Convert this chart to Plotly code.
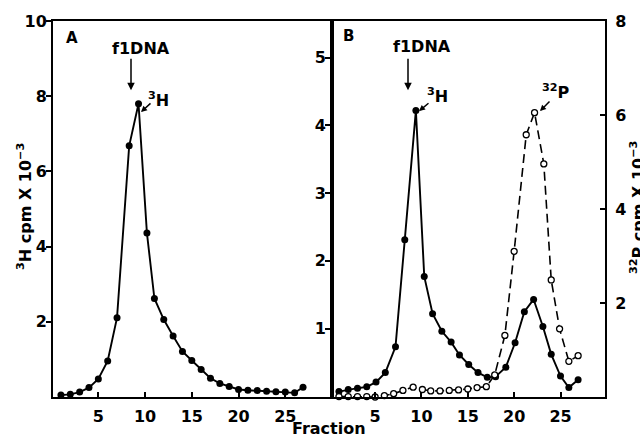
import plotly.graph_objects as go

# ---------------- data ----------------
fraction_a = [1, 2, 3, 4, 5, 6, 7, 8.3, 9.3, 10.2, 11, 12, 13, 14, 15, 16, 17, 18, 19, 20,
              21, 22, 23, 24, 25, 26, 26.9]
h3_a = [0.05, 0.07, 0.13, 0.25, 0.48, 0.96, 2.11, 6.68, 7.8, 4.36, 2.62, 2.06, 1.62, 1.21,
        0.97, 0.73, 0.5, 0.36, 0.28, 0.2, 0.18, 0.17, 0.15, 0.14, 0.13, 0.11, 0.26]

fraction_b_h3 = [1.1, 2.1, 3.1, 4.1, 5.1, 6.1, 7.2, 8.2, 9.4, 10.3, 11.2, 12.2, 13.2, 14.1,
                 15.1, 16.1, 17.1, 18, 19.1, 20.1, 21.1, 22.1, 23.1, 24, 25, 25.9, 26.9]
h3_b = [0.07, 0.10, 0.12, 0.14, 0.21, 0.35, 0.73, 2.31, 4.22, 1.77, 1.22, 0.96, 0.80, 0.61,
        0.47, 0.35, 0.28, 0.29, 0.43, 0.79, 1.25, 1.43, 1.03, 0.62, 0.30, 0.13, 0.245]

fraction_b_p32 = [1.1, 2.1, 3.1, 4.1, 5.0, 6.0, 7.0, 8.0, 9.1, 10.1, 11, 12, 13, 14, 15, 16,
                  17, 17.9, 19, 20, 21.3, 22.2, 23.2, 24, 24.9, 25.9, 26.9]
p32_b = [0.01, 0.01, 0.01, 0.01, 0.0, 0.03, 0.07, 0.14, 0.21, 0.16, 0.13, 0.13, 0.14, 0.15,
         0.17, 0.20, 0.22, 0.47, 1.31, 3.10, 5.58, 6.05, 4.96, 2.49, 1.45, 0.76, 0.88]

x_ticks = [5, 10, 15, 20, 25]
ya_ticks = [2, 4, 6, 8, 10]
yb_left_ticks = [1, 2, 3, 4, 5]
yb_right_ticks = [2, 4, 6, 8]

# ---------------- geometry helpers ----------------
W, H = 640, 438
ML, MR, MT, MB = 53, 35, 18, 40
PW, PH = W - ML - MR, H - MT - MB


def px(x):
    return (x - ML) / PW


def py(y):
    return (H - MB - y) / PH


FONT = "DejaVu Sans"
tickfont = dict(family=FONT, size=16, color="black", weight="bold")

fig = go.Figure()
fig.add_trace(go.Scatter(
    x=fraction_a, y=h3_a, mode="lines+markers", xaxis="x", yaxis="y",
    line=dict(color="black", width=1.9),
    marker=dict(size=7, color="black"), cliponaxis=False, showlegend=False))
fig.add_trace(go.Scatter(
    x=fraction_b_h3, y=h3_b, mode="lines+markers", xaxis="x2", yaxis="y2",
    line=dict(color="black", width=1.9),
    marker=dict(size=7, color="black"), cliponaxis=False, showlegend=False))
fig.add_trace(go.Scatter(
    x=fraction_b_p32, y=p32_b, mode="lines+markers", xaxis="x2", yaxis="y3",
    line=dict(color="black", width=1.6, dash="9px,5px"),
    marker=dict(size=6, color="white", line=dict(color="black", width=1.3)),
    cliponaxis=False, showlegend=False))

axis_common = dict(showline=True, linecolor="black", linewidth=2, showgrid=False,
                   zeroline=False, ticklen=5, tickwidth=2, tickcolor="black",
                   tickfont=tickfont)
split = (332 - ML) / PW

fig.update_layout(
    width=W, height=H,
    margin=dict(l=ML, r=MR, t=MT, b=MB, pad=0),
    paper_bgcolor="white", plot_bgcolor="white",
    xaxis=dict(domain=[0, split], range=[0.15, 30.0], tickvals=x_ticks, ticks="inside",
               mirror=True, anchor="y", ticklabelstandoff=4, **axis_common),
    xaxis2=dict(domain=[split, 1], range=[0.35, 29.8], tickvals=x_ticks, ticks="inside",
                mirror=True, anchor="y2", ticklabelstandoff=4, **axis_common),
    yaxis=dict(domain=[0, 1], range=[0, 10], tickvals=ya_ticks, ticks="outside",
               mirror=True, anchor="x", ticklabelstandoff=-4, **axis_common),
    yaxis2=dict(domain=[0, 1], range=[-0.01, 5.54], tickvals=yb_left_ticks, ticks="outside",
                mirror=True, anchor="x2", ticklabelstandoff=-4, **axis_common),
    yaxis3=dict(domain=[0, 1], range=[0, 8], tickvals=yb_right_ticks, ticks="inside",
                overlaying="y2", side="right", anchor="x2", ticklabelstandoff=5,
                **axis_common),
)

ann = []


def text(x, y, s, size=16, angle=0):
    ann.append(dict(x=px(x), y=py(y), xref="paper", yref="paper", text=s, showarrow=False,
                    textangle=angle, xanchor="center", yanchor="middle",
                    font=dict(family=FONT, size=size, color="black", weight="bold")))


def arrow(x0, y0, x1, y1, head=2, size=1.0):
    ann.append(dict(x=px(x1), y=py(y1), xref="paper", yref="paper", text="",
                    showarrow=True, ax=x0 - x1, ay=y0 - y1, axref="pixel", ayref="pixel",
                    arrowhead=head, arrowsize=size, arrowwidth=1.5, arrowcolor="black",
                    standoff=0, startstandoff=0))


# panel A
text(71.5, 35.5, "A", size=15)
text(141, 46, "f1DNA", size=16)
arrow(131, 55, 131, 88)
text(158, 97, "<sup>3</sup>H", size=16)
arrow(152, 100, 141, 110, head=2, size=0.8)
# panel B
text(348, 33, "B", size=15)
text(421.5, 44, "f1DNA", size=16)
arrow(408, 55, 408, 88)
text(437, 93, "<sup>3</sup>H", size=16)
arrow(430, 100, 419, 109, head=2, size=0.8)
text(556, 89, "<sup>32</sup>P", size=16)
arrow(551, 98, 540, 109, head=2, size=0.8)
# axis titles
text(24, 206, "<sup>3</sup>H cpm X 10<sup>\u22123</sup>", size=16, angle=-90)
text(637, 207, "<sup>32</sup>P cpm X 10<sup>\u22123</sup>", size=16, angle=-90)
text(329, 430, "Fraction", size=16)

fig.update_layout(annotations=ann)
fig.write_html("out.html")
